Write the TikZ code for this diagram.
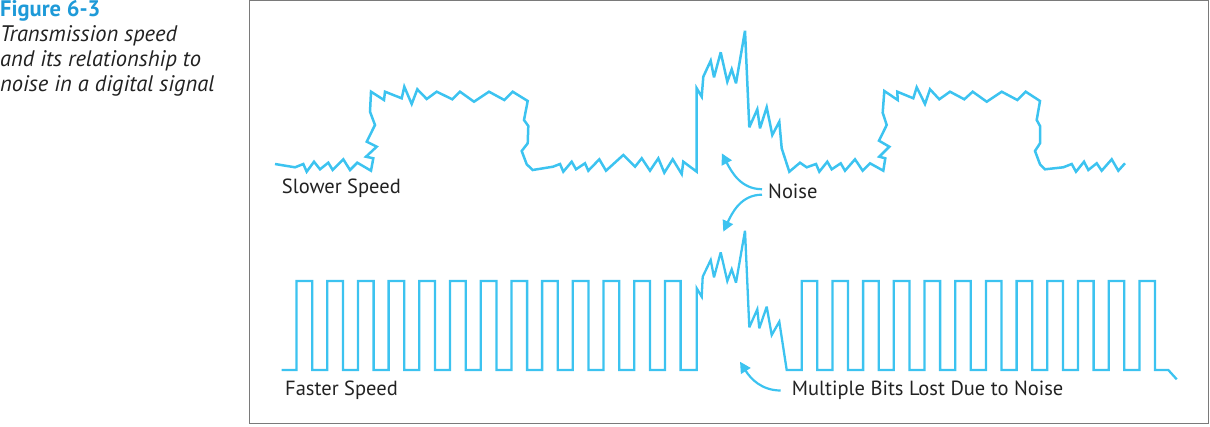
\documentclass[tikz,border=0pt]{standalone}
\usepackage{fontspec}
\setmainfont{PT Sans}
\usetikzlibrary{arrows.meta}
\definecolor{sigblue}{HTML}{3CC3F0}
\definecolor{titleblue}{HTML}{1E9AD8}
\definecolor{framegray}{HTML}{7A7A7A}
\definecolor{txt}{HTML}{222222}
\tikzset{
  sig/.style={draw=sigblue, line width=2.5pt, line join=miter, miter limit=4},
  lbl/.style={font=\fontsize{20.5}{24}\selectfont, text=txt, inner sep=0pt},
  callout/.style={draw=sigblue, line width=2.2pt, -{Triangle[length=11pt,width=11pt]}},
}
\begin{document}
\begin{tikzpicture}[x=1pt,y=-1pt]
\useasboundingbox (0,0) rectangle (1210,426);
% frame
\draw[framegray, line width=1.4pt] (249.5,0.7) rectangle (1208.5,423.7);
% caption
\node[anchor=north west, inner sep=0pt, align=left, font=\fontsize{22.5}{25}\selectfont, text=txt] (caption) at (0,0)
  {{\color{titleblue}\bfseries Figure 6-3}\\
   \itshape Transmission speed\\ \itshape and its relationship to\\ \itshape noise in a digital signal};
% slow signal
\draw[sig] (275,164) -- (295,167.3) -- (303.3,164) -- (306.7,171.7) -- (314,161.7) -- (320,169.3) -- (328.3,162.7) -- (332.7,170) -- (343.3,159.3) -- (350,170) -- (357.3,162.7) -- (371,170.7) -- (373.3,158.3) -- (366,156.7) -- (376.7,146.7) -- (366.7,141.7) -- (375,125) -- (370,111.7) -- (371,91.7) -- (384,100) -- (385,91.7) -- (401.7,98.3) -- (404.3,86.7) -- (411.7,104) -- (417.3,89.3) -- (426.7,99) -- (436.7,91.7) -- (452.3,99.3) -- (460,91.7) -- (474,101.7) -- (489,91.7) -- (504.3,100) -- (512.7,91.7) -- (527.7,101) -- (524,120) -- (528.3,126) -- (527.7,143.3) -- (521.7,151) -- (526.7,164.3) -- (532.7,170) -- (553,166.7) -- (560,164) -- (563.3,171.7) -- (571.7,161.7) -- (576,169.3) -- (585,163.3) -- (588.3,170.7) -- (599.3,159.3) -- (606,170.7) -- (623.3,155) -- (635,166.7) -- (641.7,158.3) -- (650,170.7) -- (658.3,158.3) -- (664.3,172.7) -- (672.7,159.3) -- (681.7,174) -- (683.3,161.7) -- (696.7,171.7) -- (696.7,88.3) -- (701.7,96.7) -- (703.3,76.7) -- (710.7,60.7) -- (714,77.3) -- (720.7,52.3) -- (727.3,81.7) -- (731.7,69.3) -- (736,83.3) -- (745,30.7) -- (749.3,127.3) -- (757.3,109.3) -- (760,128.3) -- (766.7,107.3) -- (772.3,135) -- (779.3,121.7) -- (781.7,148.3) -- (789.3,171.7) -- (800,162.7) -- (806.7,167.3) -- (816,164) -- (819.3,171.7) -- (827.3,161.7) -- (831.7,169.3) -- (840.7,163.3) -- (845,170.7) -- (855,159.3) -- (862.7,170.7) -- (870,163.3) -- (883.3,170.7) -- (885.3,158.3) -- (879.3,156.7) -- (889.3,146.7) -- (879,140.7) -- (886.7,125) -- (882.7,112.7) -- (884.3,91) -- (897.7,100) -- (897.3,91.7) -- (913.3,98.3) -- (916.7,87.3) -- (925,104) -- (930,89.3) -- (939.3,99.3) -- (950,91.7) -- (964.3,99.3) -- (972.7,91.7) -- (986.7,101.7) -- (1001.7,91.7) -- (1017.3,100) -- (1025.7,91.7) -- (1040,101) -- (1036.7,120) -- (1040,126) -- (1040,143.3) -- (1035,151) -- (1040,164.3) -- (1045,169.3) -- (1063.3,167.3) -- (1071.7,164) -- (1076,171.7) -- (1084,161.7) -- (1088.3,170) -- (1096.7,163.3) -- (1101.7,170.7) -- (1111.7,159.3) -- (1118.3,170.7) -- (1125,163.3);
% fast signal
\draw[sig, line width=2.3pt] (281.7,370)
  \foreach \i in {0,...,12}{ -- ({296.5+30.7*\i},370) -- ++(0,-89) -- ++(15.7,0) -- ++(0,89)}
  -- (696.7,370) -- (696.7,288.3) -- (701.7,296.7) -- (702.7,276.7) -- (710.7,260) -- (714,277.3) -- (720.7,252.3) -- (727.3,281) -- (731.7,269.3) -- (736,282.7) -- (745,230.7) -- (749.3,327.3) -- (757.3,309.3) -- (759.3,328.3) -- (766.7,306.7) -- (771.7,335) -- (779.3,321.7) -- (786.7,370)
  \foreach \i in {0,...,11}{ -- ({801.7+30.7*\i},370) -- ++(0,-89) -- ++(15.6,0) -- ++(0,89)}
  -- (1168.3,370) -- (1176.7,379.3);
% labels
\node[lbl, anchor=west] (slow) at (281.7,188.3) {Slower Speed};
\node[lbl, anchor=west] (fast) at (285,390) {Faster Speed};
\node[lbl, anchor=west] (noise) at (768,191.7) {Noise};
\node[lbl, anchor=west] (bits) at (791.7,390) {Multiple Bits Lost Due to Noise};
% callouts
\coordinate (n1) at (721.7,153.3);
\coordinate (n2) at (723.3,231.7);
\coordinate (b1) at (740,361.7);
\draw[callout] ([xshift=-6pt,yshift=2.5pt]noise.west) to[out=180,in=-62] (n1);
\draw[callout] ([xshift=-6pt,yshift=-3pt]noise.west) to[out=180,in=65] (n2);
\draw[callout] ([xshift=-11pt,yshift=-0.5pt]bits.west) to[out=180,in=-58] (b1);
\end{tikzpicture}
\end{document}
